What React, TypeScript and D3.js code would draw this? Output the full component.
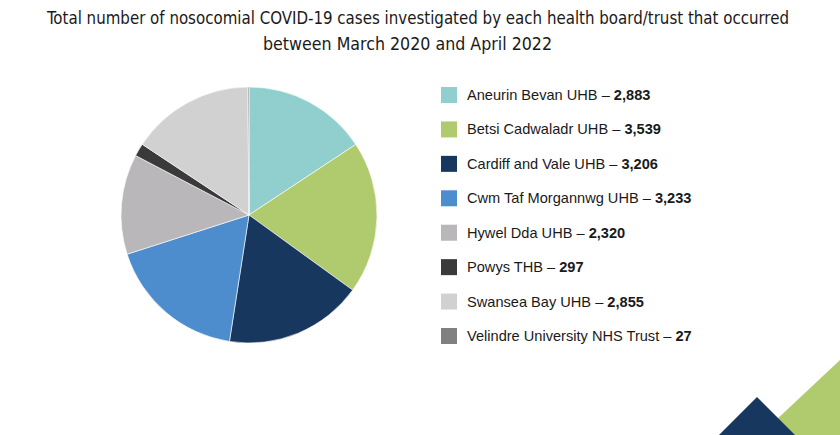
import * as d3 from 'd3';

const boards = [
  'Aneurin Bevan UHB',
  'Betsi Cadwaladr UHB',
  'Cardiff and Vale UHB',
  'Cwm Taf Morgannwg UHB',
  'Hywel Dda UHB',
  'Powys THB',
  'Swansea Bay UHB',
  'Velindre University NHS Trust',
];
const cases = [2883, 3539, 3206, 3233, 2320, 297, 2855, 27];
const colors = ['#91cfce', '#b0ca6e', '#18375e', '#4e8dcd', '#b9b7b9', '#3a3a3a', '#d1d1d1', '#808080'];
const titleLines = [
  'Total number of nosocomial COVID-19 cases investigated by each health board/trust that occurred',
  'between March 2020 and April 2022',
];

export default function App() {
  const width = 840;
  const height = 435;
  const cx = 249;
  const cy = 215;
  const radius = 128;

  const data = boards.map((name, i) => ({ name, value: cases[i], color: colors[i] }));

  const pie = d3.pie<{ name: string; value: number; color: string }>()
    .value(d => d.value)
    .sort(null);
  const arc = d3.arc<d3.PieArcDatum<{ name: string; value: number; color: string }>>()
    .innerRadius(0)
    .outerRadius(radius);

  const legendY = d3.scalePoint<string>()
    .domain(boards)
    .range([95, 336]);

  const fmt = d3.format(',');
  const titleFont = "'DejaVu Sans Condensed', 'Liberation Sans', sans-serif";

  return (
    <svg width={width} height={height} style={{ position: 'absolute', left: 0, top: 0, background: '#fff' }}>
      {/* Title */}
      <text x={47} y={24} textLength={742} lengthAdjust="spacingAndGlyphs" fontFamily={titleFont} fontStretch="condensed" fontSize={17} fill="#1a1a1a">
        {titleLines[0]}
      </text>
      <text x={263} y={50} textLength={289} lengthAdjust="spacingAndGlyphs" fontFamily={titleFont} fontStretch="condensed" fontSize={17} fill="#1a1a1a">
        {titleLines[1]}
      </text>

      {/* Pie */}
      <g transform={`translate(${cx},${cy})`}>
        {pie(data).map((d, i) => (
          <path key={i} d={arc(d) || ''} fill={d.data.color} stroke="#fff" strokeWidth={0.6} />
        ))}
      </g>

      {/* Legend */}
      {data.map((d, i) => {
        const y = legendY(d.name)!;
        return (
          <g key={i}>
            <rect x={441} y={y - 8} width={16} height={16} fill={d.color} />
            <text x={467} y={y + 5} fontFamily="'Liberation Sans', Arial, sans-serif" fontSize={14.6} fill="#1a1a1a">
              {d.name} – <tspan fontWeight="bold">{fmt(d.value)}</tspan>
            </text>
          </g>
        );
      })}

      {/* Corner decoration */}
      <path d="M840,360 L840,435 L760,435 Z" fill="#b0ca6e" />
      <path d="M757,397 L795,435 L719,435 Z" fill="#18375e" />
    </svg>
  );
}
